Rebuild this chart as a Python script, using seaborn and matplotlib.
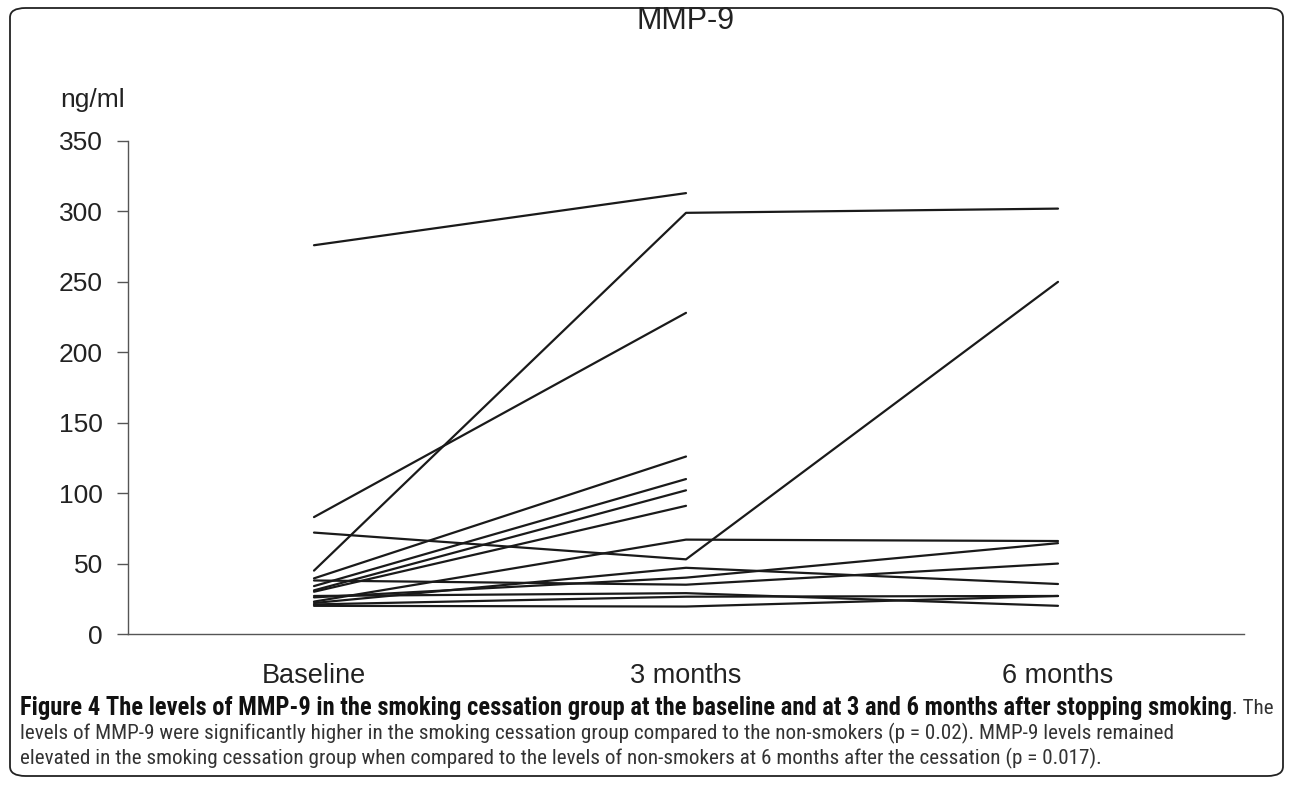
import numpy as np
import pandas as pd
import seaborn as sns
import matplotlib
matplotlib.use("Agg")
import matplotlib.pyplot as plt
from matplotlib import font_manager
from matplotlib.patches import FancyBboxPatch

# values, one entry per subject (nan = no 6-month value)
timepoints = ["Baseline", "3 months", "6 months"]
baseline = [276, 83, 72, 45, 39.5, 38, 34, 31, 30, 23, 22, 26, 27, 21, 20]
month3 = [313, 228, 53, 299, 126, 35, 110, 102, 91, 67, 47, 40, 29, 26.5, 19.5]
month6 = [np.nan, np.nan, 250, 302, np.nan, 50, np.nan, np.nan, np.nan, 66, 35.5, 64.5, 20, 27, 27]
yticks = [0, 50, 100, 150, 200, 250, 300, 350]

rows = []
for i in range(len(baseline)):
    for t, vals in enumerate([baseline, month3, month6]):
        rows.append({"subject": i, "time": t, "value": vals[i]})
df = pd.DataFrame(rows).dropna()

def pick_font(names):
    for n in names:
        try:
            font_manager.findfont(n, fallback_to_default=False)
            return n
        except Exception:
            pass
    return "DejaVu Sans"

sns.set_style("white")
main_font = pick_font(["Liberation Sans", "DejaVu Sans"])
cap_font = pick_font(["Liberation Sans Narrow", "Roboto Condensed", "Open Sans", "DejaVu Sans"])
plt.rcParams["font.family"] = [main_font, "DejaVu Sans"]

fig = plt.figure(figsize=(12.93, 7.88), dpi=100)
ax = fig.add_axes([128 / 1293, 1 - 634 / 788, (1244 - 128) / 1293, (634 - 141) / 788])

sns.lineplot(data=df, x="time", y="value", units="subject", estimator=None,
             color="#1a1a1a", lw=1.6, ax=ax, legend=False)

ax.set_xlim(-0.5, 2.5)
ax.set_ylim(0, 350)
ax.set_xlabel("")
ax.set_ylabel("")
ax.set_yticks(yticks)
ax.set_yticklabels([str(v) for v in yticks], fontsize=19, color="#222222")
ax.set_xticks([0, 1, 2])
ax.set_xticklabels(timepoints, fontsize=19.5, color="#222222")
ax.set_xticks([-0.5, 0.5, 1.5, 2.5], minor=True)
ax.tick_params(axis="x", which="major", length=0, pad=21)
ax.tick_params(axis="x", which="minor", length=8, width=1, color="#555555", direction="out")
ax.tick_params(axis="y", length=8, width=1, color="#555555", direction="out", pad=10, left=True)
for s in ["top", "right"]:
    ax.spines[s].set_visible(False)
for s in ["left", "bottom"]:
    ax.spines[s].set_color("#555555")
    ax.spines[s].set_linewidth(1)

fig.text(686 / 1293, 1 - 21 / 788, "MMP-9", fontsize=22, ha="center", va="center", color="#222222")
fig.text(60 / 1293, 1 - 100 / 788, "ng/ml", fontsize=19, ha="left", va="center", color="#222222")

# rounded frame around the figure
frame = FancyBboxPatch((10 / 1293, 1 - 776 / 788), (1283 - 10) / 1293, (776 - 8) / 788,
                       boxstyle="round,pad=0,rounding_size=0.012", transform=fig.transFigure,
                       fill=False, ec="#222222", lw=1.3)
fig.patches.append(frame)

# caption; sizes fitted to the line widths of the original
bold = "Figure 4 The levels of MMP-9 in the smoking cessation group at the baseline and at 3 and 6 months after stopping smoking"
line2 = "levels of MMP-9 were significantly higher in the smoking cessation group compared to the non-smokers (p = 0.02). MMP-9 levels remained"
line3 = "elevated in the smoking cessation group when compared to the levels of non-smokers at 6 months after the cessation (p = 0.017)."
x0 = 20 / 1293
renderer = fig.canvas.get_renderer()

def width_at_10(s, weight="normal"):
    p = fig.text(0, 0, s, fontsize=10, family=cap_font, fontweight=weight)
    w = p.get_window_extent(renderer=renderer).width
    p.remove()
    return w

bold_size = min(10 * 1213 / width_at_10(bold, "bold"), 19)
reg_size = min(10 * 1150 / width_at_10(line2), 18)

t1 = fig.text(x0, 1 - 708 / 788, bold, fontsize=bold_size, fontweight="bold", family=cap_font,
              ha="left", va="center", color="#111111")
bb = t1.get_window_extent(renderer=renderer)
fig.text(bb.x1 / fig.bbox.width, 1 - 708 / 788, ". The", fontsize=reg_size, family=cap_font,
         ha="left", va="center", color="#333333")
fig.text(x0, 1 - 733 / 788, line2, fontsize=reg_size, family=cap_font,
         ha="left", va="center", color="#333333")
fig.text(x0, 1 - 758 / 788, line3, fontsize=reg_size, family=cap_font,
         ha="left", va="center", color="#333333")

fig.savefig("out.png", dpi=100)
